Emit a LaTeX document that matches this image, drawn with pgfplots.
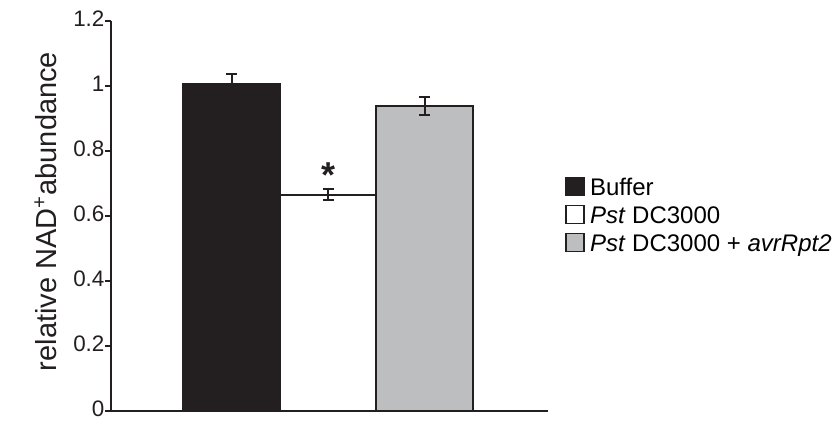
\documentclass[border=0pt]{standalone}
\usepackage{pgfplots}
\pgfplotsset{compat=1.18}
\usepackage{fontspec}
\setmainfont{Liberation Sans}
\definecolor{inkblack}{HTML}{231F20}
\definecolor{bargray}{HTML}{BCBEC0}

\begin{document}
\begin{tikzpicture}[x=1pt,y=1pt]
% fixed page frame (0.5pt per unit of the final image)
\useasboundingbox (-55.5,-4.5) rectangle (361.5,205.5);
\begin{axis}[
  at={(0,0)}, anchor=south west,
  scale only axis,
  width=218.5pt, height=195pt,
  xmin=-0.249, xmax=4.28,
  ymin=0, ymax=1.2,
  axis x line*=bottom,
  axis y line*=left,
  axis line style={-, line width=1pt, color=inkblack},
  xtick=\empty,
  ytick={0,0.2,0.4,0.6,0.8,1,1.2},
  tick align=outside,
  major tick length=2.8pt,
  ytick style={line width=0.8pt, color=inkblack},
  yticklabel style={font=\fontsize{11.2}{13}\selectfont, inner sep=0.3pt,
    yshift=1pt, text=inkblack},
  /pgf/number format/assume math mode=true,
  ylabel={relative NAD\textsuperscript{+}abundance},
  ylabel style={font=\fontsize{14.5}{17}\selectfont, text=inkblack,
    at={(axis description cs:-0.1247,0.5115)}, anchor=base},
  bar width=1,
  legend cell align=left,
  legend style={draw=none, fill=none,
    at={(axis description cs:1.0389,0.497)}, anchor=west,
    inner sep=0pt, row sep=0pt,
    font=\fontsize{12}{14}\selectfont,
    nodes={inner sep=0pt, text height=10pt, text depth=4pt}},
  % filled square, followed by a small gap before the entry text
  legend image code/.code={\draw[#1, line width=0.6pt] (0pt,-3pt) rectangle (9pt,6pt);
    \path (11.5pt,0pt);},
  clip=false,
]
\addplot[ybar, bar shift=0pt, fill=inkblack, draw=inkblack, line width=1pt,
  error bars/.cd, y dir=both, y explicit,
  error bar style={line width=1pt, color=inkblack},
  error mark options={rotate=90, mark size=2.75pt, line width=1pt, color=inkblack}]
  coordinates {(1,1.005) +- (0,0.032)};
\addlegendentry{Buffer}
\addplot[ybar, bar shift=0pt, fill=white, draw=inkblack, line width=1pt,
  error bars/.cd, y dir=both, y explicit,
  error bar style={line width=1pt, color=inkblack},
  error mark options={rotate=90, mark size=2.75pt, line width=1pt, color=inkblack}]
  coordinates {(2.005,0.666) +- (0,0.017)};
\addlegendentry{\textit{Pst} DC3000}
\addplot[ybar, bar shift=0pt, fill=bargray, draw=inkblack, line width=1pt,
  error bars/.cd, y dir=both, y explicit,
  error bar style={line width=1pt, color=inkblack},
  error mark options={rotate=90, mark size=2.75pt, line width=1pt, color=inkblack}]
  coordinates {(3,0.938) +- (0,0.028)};
\addlegendentry{\textit{Pst} DC3000 + \textit{avrRpt2}}
% significance mark over the DC3000 bar
\node[anchor=base, inner sep=0pt, text=inkblack, font=\fontsize{18}{18}\selectfont\bfseries]
  at (axis cs:2.005,0.689) {*};
\end{axis}
\end{tikzpicture}
\end{document}
